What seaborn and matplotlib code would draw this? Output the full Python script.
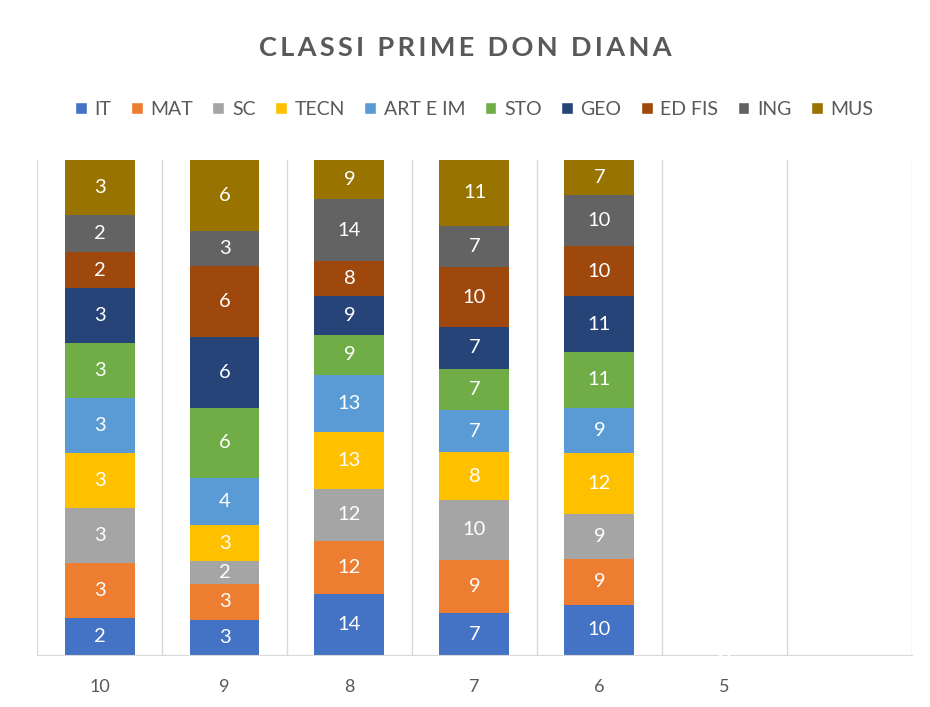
import numpy as np
import pandas as pd
import matplotlib.pyplot as plt
import seaborn as sns
from matplotlib.patches import Patch

sns.set_style('white')
plt.rcParams['font.family'] = ['Lato', 'DejaVu Sans']

# Data
classes = ['10', '9', '8', '7', '6', '5']
subjects = ['IT', 'MAT', 'SC', 'TECN', 'ART E IM', 'STO', 'GEO', 'ED FIS', 'ING', 'MUS']
it = [2, 3, 14, 7, 10, 0]
mat = [3, 3, 12, 9, 9, 0]
sc = [3, 2, 12, 10, 9, 0]
tecn = [3, 3, 13, 8, 12, 0]
art = [3, 4, 13, 7, 9, 0]
sto = [3, 6, 9, 7, 11, 0]
geo = [3, 6, 9, 7, 11, 0]
edfis = [2, 6, 8, 10, 10, 0]
ing = [2, 3, 14, 7, 10, 0]
mus = [3, 6, 9, 11, 7, 0]
colors = ['#4472C4', '#ED7D31', '#A5A5A5', '#FFC000', '#5B9BD5',
          '#70AD47', '#264478', '#9E480E', '#636363', '#997300']

df = pd.DataFrame(dict(zip(subjects, [it, mat, sc, tecn, art, sto, geo, edfis, ing, mus])),
                  index=classes)
totals = df.sum(axis=1).replace(0, np.nan)
pct = df.div(totals, axis=0).fillna(0) * 100

fig = plt.figure(figsize=(9.3, 7.07), dpi=100)
ax = fig.add_axes([0.0398, 0.0735, 0.9408, 0.7002])

bottom = np.zeros(len(classes))
for subj, col in zip(subjects, colors):
    sns.barplot(x=classes, y=pct[subj].values, order=classes, color=col,
                saturation=1, bottom=bottom, width=0.56, linewidth=0, ax=ax)
    for i, (v, b, p) in enumerate(zip(df[subj].values, bottom, pct[subj].values)):
        ax.text(i, b + p / 2, str(v), ha='center', va='center',
                color='white', fontsize=14.5)
    bottom = bottom + pct[subj].values

# one empty slot after the last class, as in the original
ax.set_xlim(-0.5, len(classes) + 0.5)
ax.set_ylim(0, 100)
ax.set_yticks([])
ax.set_xlabel('')
ax.set_ylabel('')
for x in np.arange(-0.5, len(classes) + 1, 1.0):
    ax.axvline(x, color='#d9d9d9', lw=1, zorder=0)
for s in ['top', 'right', 'left']:
    ax.spines[s].set_visible(False)
ax.spines['bottom'].set_color('#d9d9d9')
ax.tick_params(axis='x', length=0, pad=17, labelsize=13, labelcolor='#595959')

title = 'CLASSI PRIME DON DIANA'
fig.text(0.5, 0.932, '\u2009'.join(title), ha='center', va='center',
         fontsize=19.5, fontweight='bold', color='#595959')
handles = [Patch(facecolor=c, label=s) for s, c in zip(subjects, colors)]
fig.legend(handles=handles, loc='center', bbox_to_anchor=(0.51, 0.845), ncol=10,
           frameon=False, fontsize=14, handlelength=0.6, handleheight=0.6,
           handletextpad=0.4, columnspacing=1.0, labelcolor='#595959')

fig.savefig('out.png', dpi=100)
